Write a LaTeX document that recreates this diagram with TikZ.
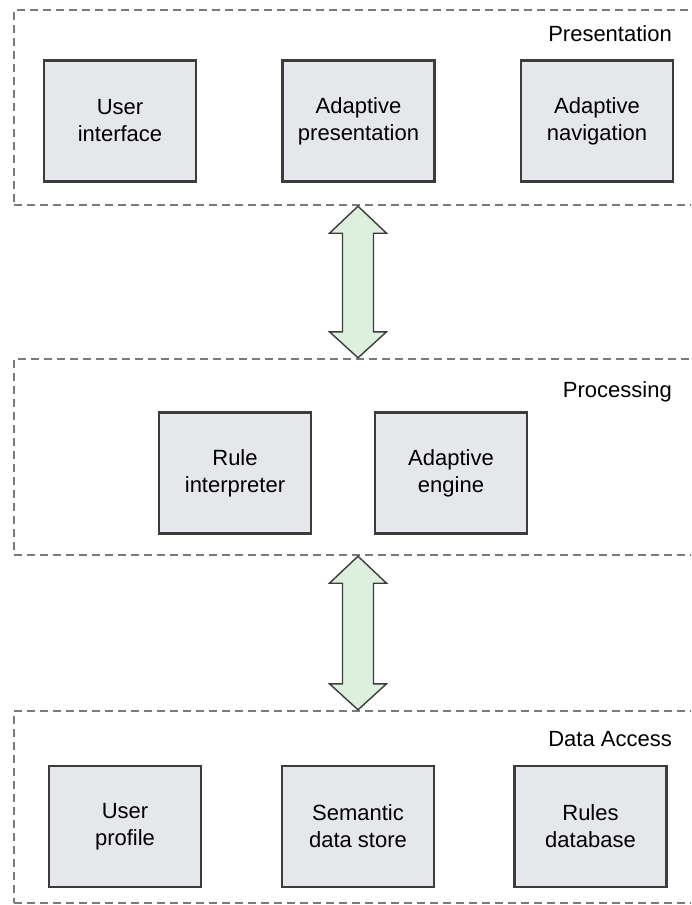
\documentclass[tikz,border=0pt]{standalone}
\usepackage{fontspec}
\setmainfont{Liberation Sans}
\usetikzlibrary{fit,calc}

\definecolor{boxfill}{HTML}{E6E7EB}
\definecolor{boxline}{HTML}{3C3C3C}
\definecolor{layerline}{HTML}{7A7A7A}
\definecolor{arrowfill}{HTML}{DDEFDD}

\tikzset{
  layer/.style={draw=layerline, line width=2.4pt, dash pattern=on 8pt off 5pt,
    inner sep=0pt, rectangle},
  layerlabel/.style={anchor=east, inner sep=0pt, font=\fontsize{22}{26}\selectfont},
  component/.style={draw=boxline, fill=boxfill, line width=2.2pt,
    minimum width=152pt, minimum height=121pt, align=center, inner sep=0pt,
    font=\fontsize{22}{27}\selectfont},
  dblarrow/.style={draw=boxline, fill=arrowfill, line width=1.4pt, line join=miter}
}

\begin{document}
\begin{tikzpicture}[x=1pt, y=-1pt]
  \useasboundingbox (0,0) rectangle (691,905);
  \clip (0,0) rectangle (691,905);

  % layers
  \node[layer, fit={(14,10) (702,205)}] (pres) {};
  \node[layer, fit={(14,359) (702,555)}] (proc) {};
  \node[layer, fit={(14,711) (702,903)}] (data) {};

  \node[layerlabel] (presl) at (672,34) {Presentation};
  \node[layerlabel] (procl) at (672,392) {Processing};
  \node[layerlabel] (datal) at (672,739) {Data Access};

  % presentation components
  \node[component] (ui) at (120,121) {User\\interface};
  \node[component] (ap) at (358.5,121) {Adaptive\\presentation};
  \node[component] (an) at (597,121) {Adaptive\\navigation};

  % processing components
  \node[component] (ri) at (235,473) {Rule\\interpreter};
  \node[component] (ae) at (451,473) {Adaptive\\engine};

  % data access components
  \node[component] (up) at (125,826.5) {User\\profile};
  \node[component] (sd) at (358,826.5) {Semantic\\data store};
  \node[component] (rd) at (590.5,826.5) {Rules\\database};

  % two-way arrows between layers
  \draw[dblarrow] (pres.south) -- ++(28.5,27) -- ++(-13,0)
    -- ($(proc.north)+(15.5,-26)$) -- ++(13,0) -- (proc.north)
    -- ++(-28.5,-26) -- ++(13,0) -- ($(pres.south)+(-15.5,27)$)
    -- ++(-13,0) -- cycle;
  \draw[dblarrow] (proc.south) -- ++(28.5,27) -- ++(-13,0)
    -- ($(data.north)+(15.5,-26)$) -- ++(13,0) -- (data.north)
    -- ++(-28.5,-26) -- ++(13,0) -- ($(proc.south)+(-15.5,27)$)
    -- ++(-13,0) -- cycle;
\end{tikzpicture}
\end{document}
